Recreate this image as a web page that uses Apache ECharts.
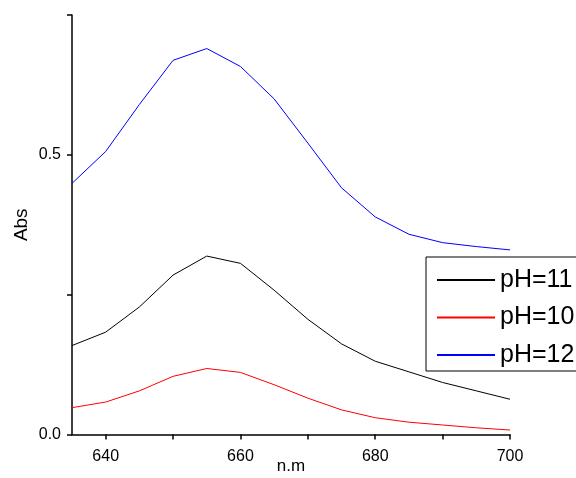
<!DOCTYPE html>
<html>
<head>
<meta charset="utf-8">
<script src="https://cdn.jsdelivr.net/npm/echarts@6/dist/echarts.min.js"></script>
<style>
html,body{margin:0;padding:0;background:#fff;}
#chart{width:576px;height:478px;}
</style>
</head>
<body>
<div id="chart"></div>
<script>
const wavelengths = [635,640,645,650,655,660,665,670,675,680,685,690,695,700];
const pH11 = [0.159,0.183,0.228,0.285,0.319,0.306,0.258,0.206,0.162,0.131,0.112,0.093,0.078,0.063];
const pH10 = [0.048,0.058,0.078,0.104,0.118,0.111,0.089,0.065,0.044,0.030,0.022,0.017,0.012,0.008];
const pH12 = [0.449,0.506,0.590,0.669,0.690,0.658,0.600,0.521,0.441,0.389,0.358,0.343,0.336,0.330];
const seriesNames = ['pH=11','pH=10','pH=12'];
const seriesColors = ['#000000','#ff0000','#0000ff'];
const xTicks = [640,650,660,670,680,690,700];
const xLabels = [640,660,680,700];
const yLabels = {0:'0.0',0.5:'0.5'};

const font = '"Liberation Sans", Arial, sans-serif';
const chart = echarts.init(document.getElementById('chart'), null, {renderer:'canvas'});
const values = [pH11, pH10, pH12];
const series = values.map((arr, i) => ({
  name: seriesNames[i],
  type: 'line',
  symbol: 'none',
  legendIcon: 'rect',
  color: seriesColors[i],
  animation: false,
  lineStyle: {color: seriesColors[i], width: 1},
  itemStyle: {color: seriesColors[i]},
  data: wavelengths.map((w, j) => [w, arr[j]])
}));

chart.setOption({
  backgroundColor: '#fff',
  animation: false,
  color: seriesColors,
  grid: {left: 72, right: 66, top: 15, bottom: 43.5, outerBoundsMode: 'none', containLabel: false},
  legend: {
    orient: 'vertical',
    left: 426,
    top: 257,
    data: seriesNames,
    itemWidth: 58,
    itemHeight: 1.2,
    itemGap: 11.5,
    padding: [10, 30, 3, 10],
    borderColor: '#000',
    borderWidth: 1,
    backgroundColor: '#fff',
    textStyle: {fontFamily: font, fontSize: 25, color: '#000', lineHeight: 26},
    selectedMode: false
  },
  xAxis: {
    type: 'value',
    min: 635,
    max: 700,
    name: 'n.m',
    nameLocation: 'middle',
    nameGap: 32,
    nameMoveOverlap: false,
    nameTextStyle: {fontFamily: font, fontSize: 17, color: '#000', verticalAlign: 'middle'},
    axisLine: {lineStyle: {color: '#000', width: 1.5}},
    axisTick: {show: true, length: 5, customValues: xTicks, lineStyle: {color: '#000', width: 1.5}},
    axisLabel: {customValues: xLabels, margin: 14, fontFamily: font, fontSize: 16, color: '#000'},
    splitLine: {show: false}
  },
  yAxis: {
    type: 'value',
    min: 0,
    max: 0.75,
    interval: 0.25,
    name: 'Abs',
    nameLocation: 'middle',
    nameRotate: 90,
    nameGap: 41,
    nameMoveOverlap: false,
    nameTextStyle: {fontFamily: font, fontSize: 19, color: '#000'},
    axisLine: {show: true, lineStyle: {color: '#000', width: 1.5}},
    axisTick: {show: true, length: 5, lineStyle: {color: '#000', width: 1.5}},
    axisLabel: {margin: 11, fontFamily: font, fontSize: 16, color: '#000',
      formatter: v => (yLabels[v] !== undefined ? yLabels[v] : '')},
    splitLine: {show: false}
  },
  series: series
});
</script>
</body>
</html>
